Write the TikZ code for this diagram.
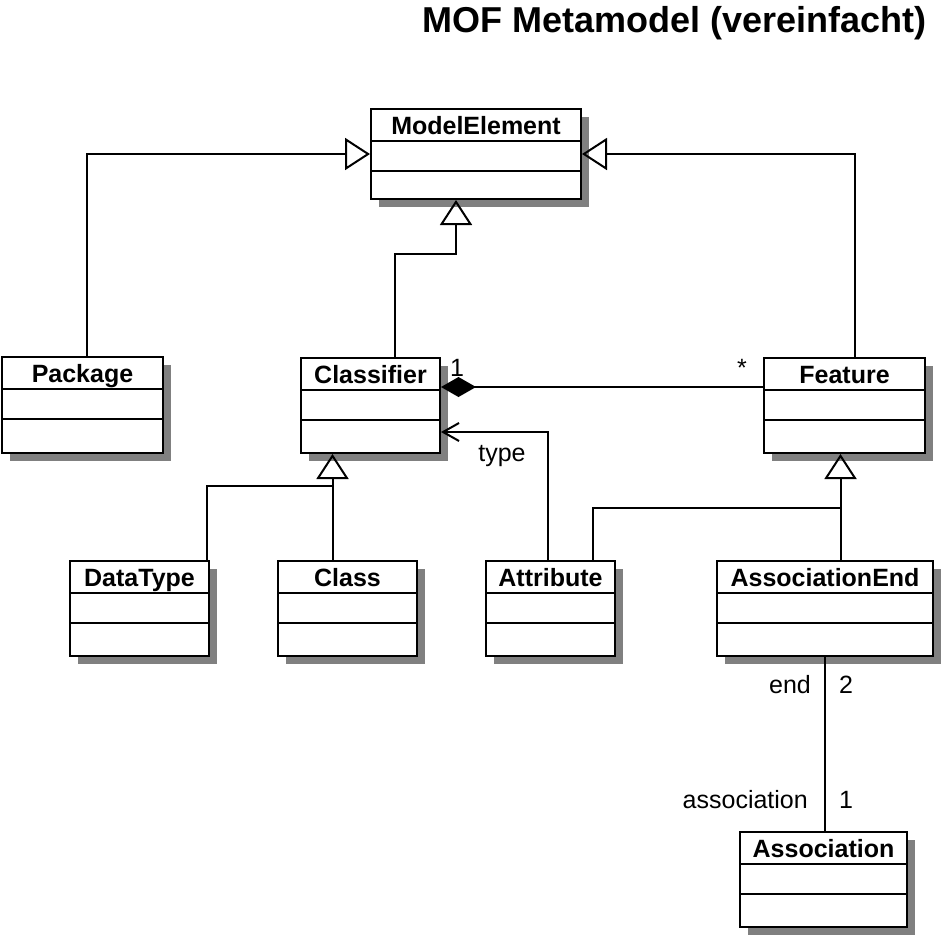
\documentclass[tikz,border=0pt]{standalone}
\usepackage{fontspec}
\setmainfont{Liberation Sans}
\usepackage{tikz}
\usetikzlibrary{calc}
\usetikzlibrary{arrows.meta}
\usetikzlibrary{fit}
\usetikzlibrary{positioning}
\tikzset{>=latex}
\definecolor{shadowgray}{gray}{0.5}
\tikzset{
  classbox/.style = {draw, line width=2pt, fill=white, inner sep=0pt},
  classname/.style = {font=\fontsize{25}{30}\selectfont\bfseries, inner sep=0pt, anchor=base},
  compline/.style = {line width=1.5pt},
  generalization/.style = {line width=2pt, -{Triangle[open, length=25pt, width=32pt]}},
  composition/.style = {line width=2pt, {Diamond[length=35pt, width=20pt]}-},
  navigable/.style = {line width=2pt, -{Straight Barb[length=16pt, width=18pt]}},
  rolelabel/.style = {font=\fontsize{25}{30}\selectfont, inner sep=0pt},
}
% class box: name, left, top, right, bottom, title
\newcommand{\umlclass}[6]{%
  \fill [shadowgray] (#2+8, #3+8) rectangle (#4+8, #5+8);
  \node [classbox, fit={(#2,#3) (#4,#5)}] (#1) {};
  \node [classname] (#1-name) at ($(#1.north)+(0,26)$) {#6};
  \draw [compline] (#2, #3+32) -- (#4, #3+32);
  \draw [compline] (#2, #3+62) -- (#4, #3+62);
}

\begin{document}
\begin{tikzpicture}[x=1pt, y=-1pt]
\useasboundingbox (0,0) rectangle (941,935);
\node [font=\fontsize{36}{43}\selectfont\bfseries, anchor=east, inner sep=0] (title) at (927,23) {MOF Metamodel (vereinfacht)};
% classes
\umlclass{modelelement}{371}{109}{581}{199}{ModelElement}
\umlclass{package}{2}{357}{163}{453}{Package}
\umlclass{classifier}{301}{358}{440}{453}{Classifier}
\umlclass{feature}{764}{358}{925}{453}{Feature}
\umlclass{datatype}{70}{561}{209}{656}{DataType}
\umlclass{class}{278}{561}{417}{656}{Class}
\umlclass{attribute}{486}{561}{615}{656}{Attribute}
\umlclass{assocend}{717}{561}{933}{656}{AssociationEnd}
\umlclass{association}{740}{832}{907}{927}{Association}
% generalizations to ModelElement
\draw [generalization] ($(package.north)+(4,0)$) |- (modelelement.west);
\draw [generalization] ($(feature.north)+(10,0)$) |- (modelelement.east);
\draw [generalization] ($(classifier.north)+(24,0)$) |- ($(modelelement.south)+(-20,54)$) -- ($(modelelement.south)+(-20,0)$);
% subclasses of Classifier
\coordinate (cl-join) at ($(classifier.south)+(-38,32)$);
\draw [generalization] (class.north -| cl-join) -- (classifier.south -| cl-join);
\draw [line width=2pt] ($(datatype.north)+(67,0)$) |- (cl-join);
% subclasses of Feature
\coordinate (ft-join) at ($(feature.south)+(-4,54)$);
\draw [generalization] (assocend.north -| ft-join) -- (feature.south -| ft-join);
\draw [line width=2pt] ($(attribute.north)+(42,0)$) |- (ft-join);
% composition Classifier - Feature
\draw [composition] ($(classifier.north east)+(0,30)$) -- ($(feature.north west)+(0,30)$);
\node [rolelabel, anchor=base] (mult-one) at (457,376) {1};
\node [rolelabel, anchor=base] (mult-many) at (742,376) {*};
% type
\draw [navigable] ($(attribute.north)+(-3,0)$) |- ($(classifier.north east)+(0,75)$);
\node [rolelabel] (typelabel) at (502,456) {type};
% AssociationEnd - Association
\draw [line width=2pt] (assocend.south) -- (assocend.south |- association.north);
\node [rolelabel, anchor=base east] (endrole) at (811,693) {end};
\node [rolelabel, anchor=base west] (endmult) at (839,693) {2};
\node [rolelabel, anchor=base east] (assocrole) at (808,808) {association};
\node [rolelabel, anchor=base west] (assocmult) at (839,808) {1};
\end{tikzpicture}
\end{document}
